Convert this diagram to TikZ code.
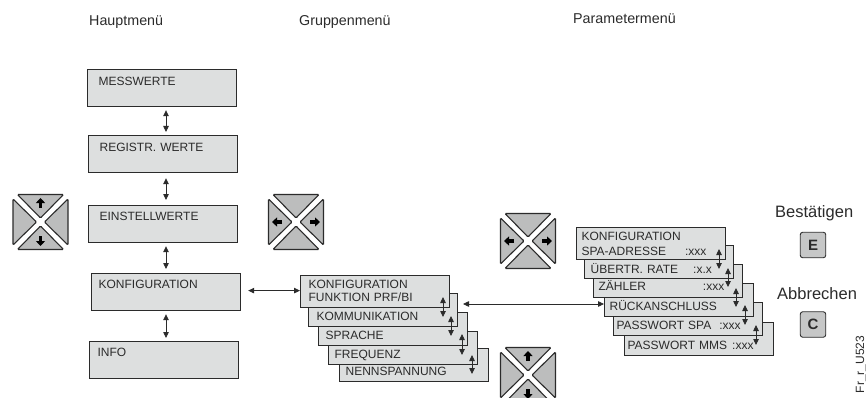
\documentclass[tikz,border=0pt]{standalone}
\usepackage{fontspec}
\setmainfont{Liberation Sans}
\usetikzlibrary{arrows.meta}
\definecolor{boxfill}{HTML}{DDDFDF}
\definecolor{keyfill}{HTML}{BCBDBD}
\definecolor{inkline}{HTML}{2B2B2B}
\tikzset{
	mainbox/.style={draw=inkline, line width=1.2pt, fill=boxfill, anchor=north west, minimum width=149pt, inner xsep=#1, inner ysep=0pt, text height=16pt, text depth=21pt, text width=149pt-2*#1, align=left, font=\fontsize{12}{13}\selectfont, text=inkline},
	lowbox/.style={mainbox=#1, text height=14.5pt, text depth=22.5pt},
	stackbox/.style={draw=inkline, line width=1.2pt, fill=boxfill, anchor=north west, inner xsep=#1, inner ysep=0pt, text height=27pt, text depth=6pt, text width=149pt-2*#1, align=left, font=\fontsize{12}{13}\selectfont, text=inkline},
	headbox/.style={stackbox=#1, text height=13pt, text depth=19pt},
	title/.style={anchor=base west, inner sep=0pt, font=\fontsize{14.3}{16}\selectfont, text=inkline},
	action/.style={anchor=base west, inner sep=0pt, font=\fontsize{16.5}{18}\selectfont, text=inkline},
	keybox/.style={draw=inkline, line width=0.9pt, fill=keyfill!85!white, rounded corners=2.5pt, minimum size=25.5pt, inner sep=0pt, font=\fontsize{15}{17}\selectfont\bfseries, text=inkline},
	updown/.style={{Triangle[length=6pt,width=5.5pt]}-{Triangle[length=6pt,width=5.5pt]}, line width=0.8pt, draw=inkline},
	navtri/.style={draw=inkline, line width=1.1pt, fill=keyfill, rounded corners=1pt},
	navarrow/.style={-{Triangle[length=5pt,width=9pt]}, line width=3.2pt, draw=black},
}
\def\navkey(#1,#2)#3{\begin{scope}[shift={(#1,#2)}]
	\foreach \a in {0,90,180,270} {\draw[navtri, rotate=\a] (-23,-27.5) -- (23,-27.5) -- (0,-4) -- cycle;}
	\foreach \a in {#3} {\draw[navarrow, rotate=\a] (0,-14) -- (0,-24);}
\end{scope}}

\begin{document}
\begin{tikzpicture}[x=1pt, y=-1pt]
		%%%%% START %%%%%
		\useasboundingbox (0, 0) rectangle (866, 398);
		\clip (0, 0) rectangle (866, 398);
		
		\node[title] (haupt) at (89, 26) {Hauptmenü};
		\node[title] (gruppe) at (299, 26) {Gruppenmenü};
		\node[title] (param) at (573, 24) {Parametermenü};
		
		\node[mainbox=11pt] (messwerte) at (87, 69) {MESSWERTE};
		\node[mainbox=11pt] (registr) at (88, 135) {REGISTR. WERTE};
		\node[lowbox=11pt] (einstell) at (88, 205) {EINSTELLWERTE};
		\node[lowbox=7pt] (konfig) at (91, 273) {KONFIGURATION};
		\node[lowbox=8pt] (info) at (89, 341) {INFO};
		
		\coordinate (axis) at (166, 0);
		\draw[updown, shorten <=3pt, shorten >=3pt] (messwerte.south -| axis) -- (registr.north -| axis);
		\draw[updown, shorten <=5pt, shorten >=5pt] (registr.south -| axis) -- (einstell.north -| axis);
		\draw[updown, shorten <=3pt, shorten >=4pt] (einstell.south -| axis) -- (konfig.north -| axis);
		\draw[updown, shorten <=3pt, shorten >=3pt] (konfig.south -| axis) -- (info.north -| axis);
		
		\navkey(40.5,222){0,180}
		\navkey(296,222){90,270}
		\navkey(528,241){90,270}
		\navkey(528,375){0,180}
		
		% Gruppenmenue, von hinten nach vorn
		\node[stackbox=6pt] (nenn) at (339, 348) {NENNSPANNUNG};
		\node[stackbox=6pt] (freq) at (328, 331) {FREQUENZ};
		\node[stackbox=7pt] (sprache) at (318, 312) {SPRACHE};
		\node[stackbox=8pt] (komm) at (308, 293) {KOMMUNIKATION};
		\node[headbox=8pt] (gkonfig) at (300, 275) {KONFIGURATION\\FUNKTION PRF/BI};
		
		\coordinate (g1a) at (443, 297);
		\coordinate (g1b) at (443, 317);
		\coordinate (g2a) at (451, 316);
		\coordinate (g2b) at (451, 336);
		\coordinate (g3a) at (462, 334);
		\coordinate (g3b) at (462, 355);
		\coordinate (g4a) at (472, 355);
		\coordinate (g4b) at (472, 374);
		\draw[updown] (g1a) -- (g1b);
		\draw[updown] (g2a) -- (g2b);
		\draw[updown] (g3a) -- (g3b);
		\draw[updown] (g4a) -- (g4b);
		
		% Parametermenue
		\node[stackbox=3pt] (mms) at (624, 322) {PASSWORT MMS\hspace{5pt}:xxx};
		\node[stackbox=3pt] (passspa) at (613, 302) {PASSWORT SPA\hspace{8pt}:xxx};
		\node[stackbox=5pt] (rueck) at (604, 283) {RÜCKANSCHLUSS};
		\node[stackbox=5pt, text height=26pt, text depth=7pt] (zaehler) at (593, 264) {ZÄHLER\hspace{57pt}:xxx};
		\node[stackbox=6pt, text height=28pt, text depth=5pt] (uebertr) at (584, 245) {ÜBERTR. RATE\hspace{15pt}:x.x};
		\node[headbox=5pt] (pkonfig) at (576, 227) {KONFIGURATION\\[2pt]SPA-ADRESSE\hspace{19pt}:xxx};
		
		\coordinate (p1a) at (719, 249);
		\coordinate (p1b) at (719, 269);
		\coordinate (p2a) at (728, 268);
		\coordinate (p2b) at (728, 287);
		\coordinate (p3a) at (736, 288);
		\coordinate (p3b) at (736, 307);
		\coordinate (p4a) at (745, 305);
		\coordinate (p4b) at (745, 325);
		\coordinate (p5a) at (756, 325);
		\coordinate (p5b) at (756, 345);
		\draw[updown] (p1a) -- (p1b);
		\draw[updown] (p2a) -- (p2b);
		\draw[updown] (p3a) -- (p3b);
		\draw[updown] (p4a) -- (p4b);
		\draw[updown] (p5a) -- (p5b);
		
		\coordinate (konfigport) at ([yshift=1.5pt]konfig.east);
		\coordinate (gruppenport) at (463, 304);
		\draw[updown, shorten <=7pt] (konfigport) -- (konfigport -| gkonfig.west);
		\draw[updown] (gruppenport) -- (gruppenport -| rueck.west);
		
		\node[action] (best) at (775, 217) {Bestätigen};
		\node[keybox] (ekey) at (813, 245) {E};
		\node[action] (abbr) at (777, 299) {Abbrechen};
		\node[keybox] (ckey) at (813, 324.5) {C};
		
		\node[anchor=base, rotate=90, inner sep=0pt, font=\fontsize{12}{14}\selectfont, text=inkline] (figid) at (864, 364.5) {Fr\_r\_U523};
		
		%%%%% END %%%%%
	\end{tikzpicture}
\end{document}
